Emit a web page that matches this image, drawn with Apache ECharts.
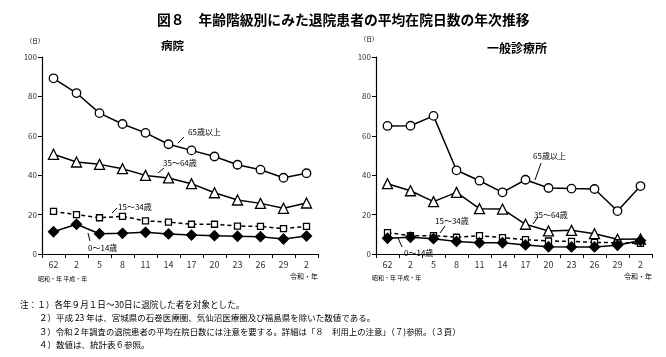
<!DOCTYPE html>
<html><head><meta charset="utf-8">
<script src="https://cdn.jsdelivr.net/npm/echarts@6/dist/echarts.min.js"></script>
<style>html,body{margin:0;padding:0;background:#fff}#c{width:666px;height:357px}</style>
</head><body><div id="c"></div>
<script>
const categories = ['S62','H2','H5','H8','H11','H14','H17','H20','H23','H26','H29','R2'];
const tickLabels = ['62','2','5','8','11','14','17','20','23','26','29','2'];
const yTicks = [0,20,40,60,80,100];
// 病院
const hosp65 = [89.2,81.7,71.5,66.0,61.5,55.7,52.6,49.5,45.3,42.8,38.7,41.0];
const hosp35 = [50.6,46.7,45.5,43.3,39.9,38.6,35.7,31.1,27.4,25.7,23.2,25.9];
const hosp15 = [21.6,20.0,18.4,19.1,16.8,16.2,15.1,15.1,14.2,14.0,12.9,14.0];
const hosp0  = [11.3,15.1,10.3,10.5,11.0,10.2,9.6,9.3,9.0,8.8,7.6,9.1];
// 一般診療所
const clin65 = [65.0,65.1,70.1,42.5,37.2,31.3,37.7,33.5,33.2,33.0,21.8,34.5];
const clin35 = [35.7,32.1,26.6,31.3,23.0,22.8,15.1,11.7,12.0,10.3,7.5,7.6];
const clin15 = [10.8,9.3,9.3,8.5,9.3,8.3,7.3,6.6,6.4,5.9,5.7,5.4];
const clin0  = [8.0,8.5,7.8,6.4,5.7,5.7,4.6,3.7,3.6,3.6,4.4,6.8];

const FONT = '"Noto Sans CJK JP","Noto Sans",sans-serif';
const chart = echarts.init(document.getElementById('c'), null, {renderer:'canvas'});

function xAxis(gi){
  return {type:'category', gridIndex:gi, data:categories, boundaryGap:true,
    axisLine:{lineStyle:{color:'#000',width:1.2}},
    axisTick:{show:true, length:4, lineStyle:{color:'#000'}},
    axisLabel:{margin:6, fontSize:9, color:'#333', fontFamily:FONT,
      formatter:(v,i)=>tickLabels[i]}};
}
function yAxis(gi){
  return {type:'value', gridIndex:gi, min:0, max:100, interval:20,
    splitLine:{show:false},
    axisLine:{show:true, lineStyle:{color:'#000',width:1.2}},
    axisTick:{show:true, length:4, lineStyle:{color:'#000'}},
    axisLabel:{margin:5, fontSize:8, color:'#333', fontFamily:FONT}};
}
function ser(gi, data, sym, size, filled, dashed){
  return {type:'line', xAxisIndex:gi, yAxisIndex:gi, data:data,
    symbol:sym, symbolSize:size, showAllSymbol:true, silent:true,
    lineStyle:{color:'#000', width:1.5, type: dashed?[4,3]:'solid'},
    itemStyle:{color: filled?'#000':'#fff', borderColor:'#000', borderWidth:1.3},
    z: filled?3:2, animation:false};
}
function txt(x,y,t,size,bold,align){
  return {type:'text', left:x, top:y, style:{text:t, fontSize:size||8, fontWeight:bold?'bold':'normal',
    fill:'#000', fontFamily:FONT, textAlign:align||'left', textVerticalAlign:'middle'}};
}
function seg(x1,y1,x2,y2){
  return {type:'line', shape:{x1:x1,y1:y1,x2:x2,y2:y2}, style:{stroke:'#000', lineWidth:1}};
}

const option = {
  backgroundColor:'#fff',
  animation:false,
  title:[
    {text:'図８　年齢階級別にみた退院患者の平均在院日数の年次推移', left:152, top:8,
     textStyle:{fontSize:13.8, fontWeight:'bold', color:'#000', fontFamily:FONT}},
    {text:'病院', left:156, top:35, textStyle:{fontSize:11.5, fontWeight:'bold', color:'#000', fontFamily:FONT}},
    {text:'一般診療所', left:482, top:37, textStyle:{fontSize:12, fontWeight:'bold', color:'#000', fontFamily:FONT}}
  ],
  grid:[
    {left:42, top:57, width:276, height:197, containLabel:false},
    {left:376, top:57, width:276, height:197, containLabel:false}
  ],
  xAxis:[xAxis(0), xAxis(1)],
  yAxis:[yAxis(0), yAxis(1)],
  series:[
    ser(0,hosp65,'circle',8.5,false,false),
    ser(0,hosp35,'triangle',10,false,false),
    ser(0,hosp15,'rect',6,false,true),
    ser(0,hosp0,'diamond',10,true,false),
    ser(1,clin65,'circle',8.5,false,false),
    ser(1,clin35,'triangle',10,false,false),
    ser(1,clin15,'rect',6,false,true),
    ser(1,clin0,'diamond',10,true,false)
  ],
  graphic:[
    txt(26,38,'（日）',6),
    txt(360,36,'（日）',6),
    txt(38,276,'昭和・年 平成・年',6),
    txt(290,273,'令和・年',7),
    txt(372,275,'昭和・年 平成・年',6),
    txt(624,273,'令和・年',7),
    // left labels
    txt(188,128,'65歳以上',8), seg(178,143,184,137),
    txt(163,159,'35〜64歳',8), seg(158,173,164,168),
    txt(118,203,'15〜34歳',8), seg(112,213,117,208),
    txt(88,244,'0〜14歳',8), seg(88,233,90,241),
    // right labels
    txt(533,152,'65歳以上',8), seg(535,180,541,163),
    txt(534,211,'35〜64歳',8), seg(533,224,538,217),
    txt(435,217,'15〜34歳',8), seg(440,233,445,226),
    txt(404,249,'0〜14歳',8), seg(398,238,402,247),
    // notes
    txt(20,300,'注：１）各年９月１日～30日に退院した者を対象とした。',8.6),
    txt(39,314,'２）平成 23 年は、宮城県の石巻医療圏、気仙沼医療圏及び福島県を除いた数値である。',8.5),
    txt(39,328,'３）令和２年調査の退院患者の平均在院日数には注意を要する。詳細は「８　利用上の注意」（７)参照。（３頁）',8.4),
    txt(39,341,'４）数値は、統計表６参照。',8.5)
  ]
};
chart.setOption(option);
</script></body></html>
